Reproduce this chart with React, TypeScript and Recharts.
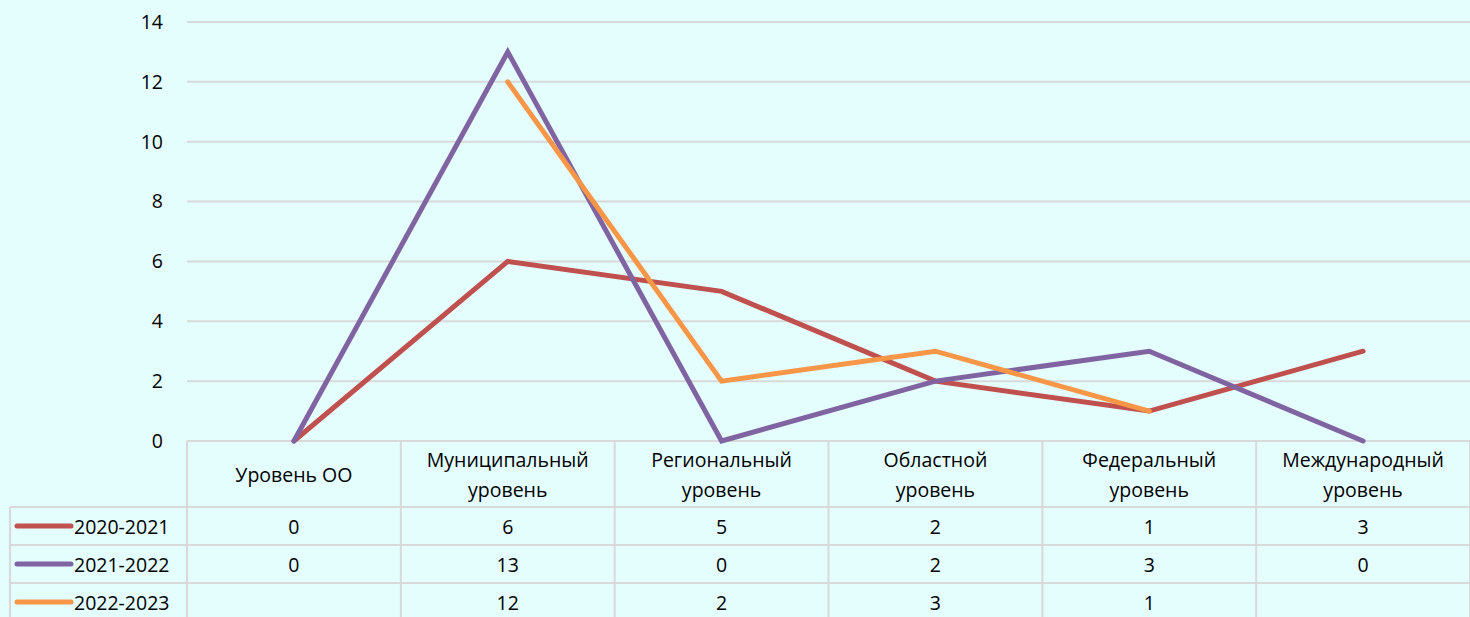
import { LineChart, Line, XAxis, YAxis, CartesianGrid } from 'recharts';

const categories = ['Уровень ОО', 'Муниципальный уровень', 'Региональный уровень', 'Областной уровень', 'Федеральный уровень', 'Международный уровень'];
const headerLines = [
  ['Уровень ОО'],
  ['Муниципальный', 'уровень'],
  ['Региональный', 'уровень'],
  ['Областной', 'уровень'],
  ['Федеральный', 'уровень'],
  ['Международный', 'уровень'],
];
const series2020 = [0, 6, 5, 2, 1, 3];
const series2021 = [0, 13, 0, 2, 3, 0];
const series2022: (number | null)[] = [null, 12, 2, 3, 1, null];
const yTicks = [0, 2, 4, 6, 8, 10, 12, 14];

const seriesList = [
  { key: 'y2020', name: '2020-2021', color: '#C0504D', values: series2020 },
  { key: 'y2021', name: '2021-2022', color: '#8064A2', values: series2021 },
  { key: 'y2022', name: '2022-2023', color: '#F79646', values: series2022 },
];

const data = categories.map((c, i) => ({
  name: c,
  y2020: series2020[i],
  y2021: series2021[i],
  y2022: series2022[i],
}));

const W = 1470;
const H = 617;
const LEFT = 187;
const TOP = 22;
const PLOT_BOTTOM = 441;
const colW = (W - LEFT) / categories.length;
const rowTops = [507, 545, 583];
const rowH = 38;
const border = '#D9D9D9';
const font = "'Open Sans', sans-serif";
const fs = 19.5;

function TableTick(props: any) {
  const { x, index } = props;
  const half = colW / 2;
  const y0 = PLOT_BOTTOM;
  const lines = headerLines[index] || [];
  return (
    <g>
      {index === 0 && (
        <g>
          <line x1={x - half} x2={x - half} y1={y0} y2={H} stroke={border} strokeWidth={2} />
          <line x1={10} x2={10} y1={rowTops[0]} y2={H} stroke={border} strokeWidth={2} />
          {rowTops.map((t) => (
            <line key={t} x1={10} x2={W} y1={t} y2={t} stroke={border} strokeWidth={2} />
          ))}
          {seriesList.map((s, r) => (
            <g key={s.key}>
              <line x1={17} x2={71} y1={rowTops[r] + rowH / 2} y2={rowTops[r] + rowH / 2} stroke={s.color} strokeWidth={5} strokeLinecap="round" />
              <text x={74} y={rowTops[r] + rowH / 2} dominantBaseline="central" fontFamily={font} fontSize={fs} fill="#000">
                {s.name}
              </text>
            </g>
          ))}
        </g>
      )}
      <line x1={x + half} x2={x + half} y1={y0} y2={H} stroke={border} strokeWidth={2} />
      {lines.map((l, k) => (
        <text
          key={k}
          x={x}
          y={lines.length === 1 ? 474 : 459 + k * 30}
          textAnchor="middle"
          dominantBaseline="central"
          fontFamily={font}
          fontSize={fs}
          fill="#000"
        >
          {l}
        </text>
      ))}
      {seriesList.map((s, r) => {
        const v = s.values[index];
        return v === null || v === undefined ? null : (
          <text
            key={s.key}
            x={x}
            y={rowTops[r] + rowH / 2}
            textAnchor="middle"
            dominantBaseline="central"
            fontFamily={font}
            fontSize={fs}
            fill="#000"
          >
            {v}
          </text>
        );
      })}
    </g>
  );
}

export default function App() {
  return (
    <div style={{ width: W, height: H, background: '#E4FDFD' }}>
      <style>{'body{margin:0;}'}</style>
      <LineChart width={W} height={H} data={data} margin={{ top: TOP, right: 0, left: 0, bottom: 0 }}>
        <CartesianGrid vertical={false} stroke={border} strokeWidth={2} />
        <XAxis
          dataKey="name"
          axisLine={false}
          tickLine={false}
          tickSize={0}
          tickMargin={0}
          height={H - PLOT_BOTTOM}
          interval={0}
          padding={{ left: colW / 2, right: colW / 2 }}
          tick={<TableTick />}
        />
        <YAxis
          width={LEFT}
          domain={[0, 14]}
          ticks={yTicks}
          axisLine={false}
          tickLine={false}
          tickMargin={18}
          tick={{ fill: '#000', fontSize: fs, fontFamily: font }}
        />
        {seriesList.map((s) => (
          <Line
            key={s.key}
            dataKey={s.key}
            name={s.name}
            stroke={s.color}
            strokeWidth={5}
            strokeLinecap="round"
            type="linear"
            dot={false}
            activeDot={false}
            isAnimationActive={false}
          />
        ))}
      </LineChart>
    </div>
  );
}
